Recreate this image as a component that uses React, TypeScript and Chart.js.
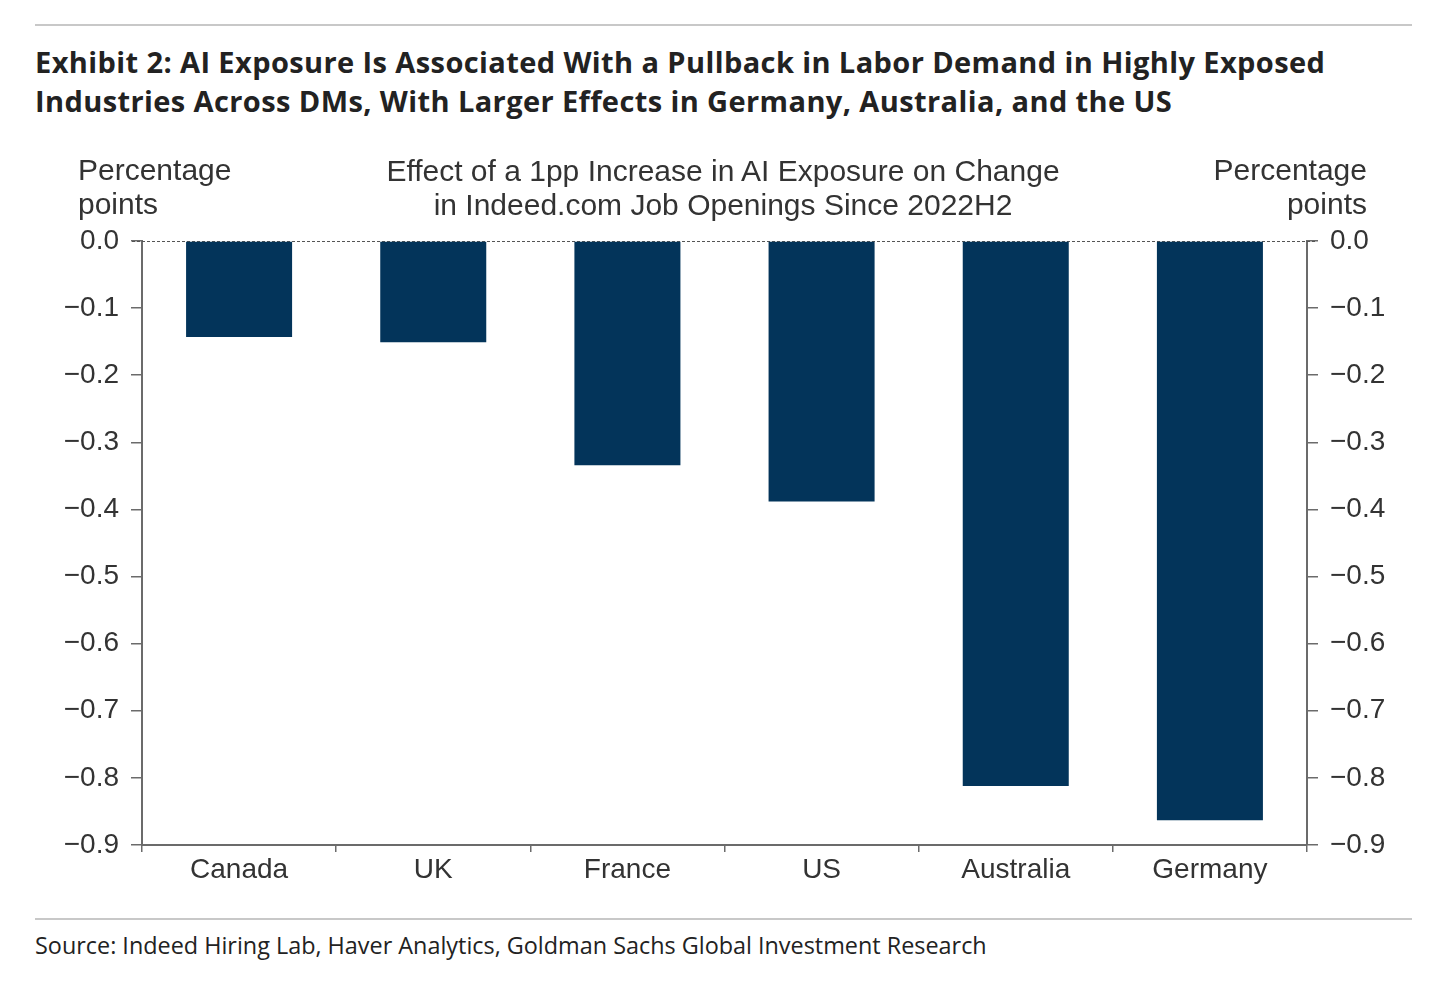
import { useEffect, useRef } from "react";
import { Chart, registerables } from "chart.js";

Chart.register(...registerables);

const countries = ["Canada", "UK", "France", "US", "Australia", "Germany"];
const effects = [-0.143, -0.151, -0.334, -0.388, -0.812, -0.863];
const axisMin = -0.9;
const axisMax = 0;

const BAR_COLOR = "#03345a";
const AXIS_COLOR = "#6b6b6b";
const TEXT_COLOR = "#333333";
const CHART_FONT = "'Liberation Sans', Arial, sans-serif";

const fmt = (v: number | string) => Number(v).toFixed(1).replace("-", "\u2212");

// dashed reference line at zero across the plot
const zeroLine = {
  id: "zeroLine",
  beforeDatasetsDraw(chart: Chart) {
    const { ctx, chartArea, scales } = chart;
    const y = Math.round(scales.y.getPixelForValue(0)) + 0.5;
    ctx.save();
    ctx.strokeStyle = "#555";
    ctx.lineWidth = 1;
    ctx.setLineDash([3, 2]);
    ctx.beginPath();
    ctx.moveTo(chartArea.left - 10, y);
    ctx.lineTo(chartArea.right + 10, y);
    ctx.stroke();
    ctx.restore();
  },
};

const ExposureChart = () => {
  const chartRef = useRef<HTMLCanvasElement>(null);

  useEffect(() => {
    if (!chartRef.current) return;
    const ctx = chartRef.current.getContext("2d");
    if (!ctx) return;

    const yTicks = {
      color: TEXT_COLOR,
      font: { family: CHART_FONT, size: 28 },
      stepSize: 0.1,
      padding: 12,
      callback: (v: number | string) => fmt(v),
    };

    const chart = new Chart(ctx, {
      type: "bar",
      data: {
        labels: countries,
        datasets: [
          {
            data: effects,
            backgroundColor: BAR_COLOR,
            barPercentage: 0.546,
            categoryPercentage: 1,
            yAxisID: "y",
          },
        ],
      },
      options: {
        animation: false,
        responsive: true,
        maintainAspectRatio: false,
        layout: { padding: { top: 101, left: 0, right: 0, bottom: 0 } },
        plugins: {
          legend: { display: false },
          tooltip: { enabled: false },
        },
        scales: {
          x: {
            offset: true,
            grid: {
              offset: true,
              drawOnChartArea: false,
              tickLength: 7,
              color: AXIS_COLOR,
              lineWidth: 1.5,
            },
            border: { color: AXIS_COLOR, width: 2 },
            ticks: {
              color: TEXT_COLOR,
              font: { family: CHART_FONT, size: 28 },
              padding: 1,
            },
            afterFit: (scale: any) => {
              scale.height = 55;
            },
          },
          y: {
            position: "left",
            min: axisMin,
            max: axisMax,
            grid: {
              drawOnChartArea: false,
              tickLength: 11,
              color: AXIS_COLOR,
              lineWidth: 1.5,
            },
            border: { color: AXIS_COLOR, width: 2 },
            ticks: yTicks,
            afterFit: (scale: any) => {
              scale.width = 142;
            },
          },
          y2: {
            position: "right",
            min: axisMin,
            max: axisMax,
            grid: {
              drawOnChartArea: false,
              tickLength: 11,
              color: AXIS_COLOR,
              lineWidth: 1.5,
            },
            border: { color: AXIS_COLOR, width: 2 },
            ticks: yTicks,
            afterFit: (scale: any) => {
              scale.width = 132;
            },
          },
        },
      },
      plugins: [zeroLine],
    });

    return () => chart.destroy();
  }, []);

  return <canvas ref={chartRef}></canvas>;
};

const headerStyle: React.CSSProperties = {
  position: "absolute",
  fontFamily: CHART_FONT,
  fontSize: 30,
  lineHeight: "34px",
  color: TEXT_COLOR,
  whiteSpace: "nowrap",
};

export default function App() {
  return (
    <div
      style={{
        position: "absolute",
        left: 0,
        top: 0,
        width: 1439,
        height: 981,
        background: "#fff",
        overflow: "hidden",
      }}
    >
      <div style={{ position: "absolute", left: 35, top: 24, width: 1377, borderTop: "2px solid #c8c8c8" }} />
      <div
        style={{
          position: "absolute",
          left: 35,
          top: 42,
          fontFamily: "'Open Sans', Lato, sans-serif",
          fontWeight: 700,
          fontSize: 29,
          letterSpacing: "0.4px",
          lineHeight: "39px",
          color: "#222",
          whiteSpace: "nowrap",
        }}
      >
        Exhibit 2: AI Exposure Is Associated With a Pullback in Labor Demand in Highly Exposed
        <br />
        Industries Across DMs, With Larger Effects in Germany, Australia, and the US
      </div>

      <div style={{ position: "absolute", left: 0, top: 140, width: 1439, height: 760 }}>
        <ExposureChart />
      </div>

      <div style={{ ...headerStyle, left: 78, top: 153 }}>
        Percentage
        <br />
        points
      </div>
      <div style={{ ...headerStyle, left: 323, width: 800, top: 154, textAlign: "center" }}>
        Effect of a 1pp Increase in AI Exposure on Change
        <br />
        in Indeed.com Job Openings Since 2022H2
      </div>
      <div style={{ ...headerStyle, right: 1439 - 1367, top: 153, textAlign: "right" }}>
        Percentage
        <br />
        points
      </div>

      <div style={{ position: "absolute", left: 35, top: 918, width: 1377, borderTop: "2px solid #c8c8c8" }} />
      <div
        style={{
          position: "absolute",
          left: 35,
          top: 929,
          fontFamily: "'Open Sans', Lato, sans-serif",
          fontSize: 23.4,
          lineHeight: "32px",
          color: "#222",
          whiteSpace: "nowrap",
        }}
      >
        Source: Indeed Hiring Lab, Haver Analytics, Goldman Sachs Global Investment Research
      </div>
    </div>
  );
}
